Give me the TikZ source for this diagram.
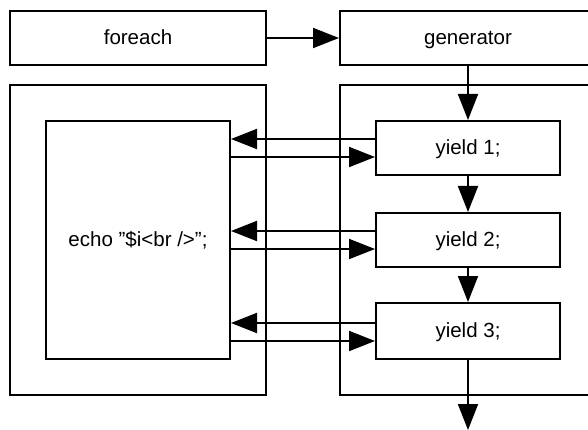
\documentclass[tikz,border=0pt]{standalone}
\usepackage{fontspec}
\setmainfont{Liberation Sans}
\usetikzlibrary{arrows.meta}
\begin{document}
\begin{tikzpicture}[x=1pt,y=-1pt,
  box/.style={draw,line width=2pt,rectangle,inner sep=0pt,text height=16pt,text depth=3pt,font=\fontsize{20.5}{24}\selectfont},
  arr/.style={line width=1.9pt,-{Triangle[length=26pt,width=20pt]}}]
\useasboundingbox (0,0) rectangle (588,430);
\clip (0,0) rectangle (588,430);
\node[box,minimum width=256pt,minimum height=54pt] (foreach) at (138,38) {foreach};
\node[box,minimum width=256pt,minimum height=54pt] (generator) at (468,38) {generator};
\node[box,minimum width=256pt,minimum height=310pt] (leftouter) at (138,240) {};
\node[box,minimum width=184pt,minimum height=238pt] (echo) at (138,240) {echo \char"22\$i<br />\char"22;};
\node[box,minimum width=256pt,minimum height=310pt] (rightouter) at (468,240) {};
\node[box,minimum width=184pt,minimum height=54pt,fill=white] (y1) at (468,148) {yield 1;};
\node[box,minimum width=184pt,minimum height=54pt,fill=white] (y2) at (468,240) {yield 2;};
\node[box,minimum width=184pt,minimum height=56pt,fill=white] (y3) at (468,331) {yield 3;};
\coordinate (end) at (468,430);
\draw[arr] (foreach) -- (generator);
\draw[arr] (generator) -- (y1);
\draw[arr] (y1) -- (y2);
\draw[arr] (y2) -- (y3);
\draw[arr] (y3) -- (end);
\draw[arr] (y1.west |- 0,139) -- (echo.east |- 0,139);
\draw[arr] (echo.east |- 0,157) -- (y1.west |- 0,157);
\draw[arr] (y2.west |- 0,231) -- (echo.east |- 0,231);
\draw[arr] (echo.east |- 0,249) -- (y2.west |- 0,249);
\draw[arr] (y3.west |- 0,323) -- (echo.east |- 0,323);
\draw[arr] (echo.east |- 0,341) -- (y3.west |- 0,341);
\end{tikzpicture}
\end{document}
